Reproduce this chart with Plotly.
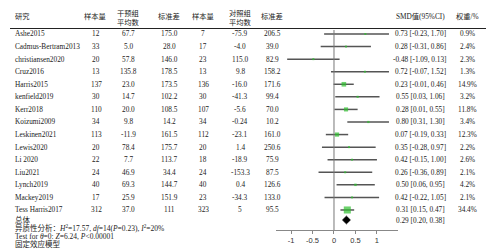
import numpy as np
import plotly.graph_objects as go

# ---------------- data ----------------
studies = ["Ashe2015", "Cadmus-Bertram2013", "christiansen2020", "Cruz2016", "Harris2015",
           "kenfield2019", "Kerr2018", "Koizumi2009", "Leskinen2021", "Lewis2020", "Li 2020",
           "Liu2021", "Lynch2019", "Mackey2019", "Tess Harris2017"]
n_int = [12, 33, 20, 13, 137, 30, 110, 34, 113, 20, 22, 24, 40, 17, 312]
mean_int = ["67.7", "5.0", "57.8", "135.8", "23.0", "14.7", "20.0", "9.8", "-11.9", "78.4",
            "7.7", "46.9", "69.3", "25.9", "37.0"]
sd_int = ["175.0", "28.0", "146.0", "178.5", "173.5", "102.2", "108.5", "14.2", "161.5",
          "175.7", "113.7", "34.4", "144.7", "151.9", "111"]
n_ctl = [7, 17, 23, 13, 136, 30, 107, 34, 112, 20, 18, 24, 40, 23, 323]
mean_ctl = ["-75.9", "-4.0", "115.0", "9.8", "-16.0", "-41.3", "-5.6", "-0.24", "-23.1", "1.4",
            "-18.9", "-153.3", "0.4", "-34.3", "5"]
sd_ctl = ["206.5", "39.0", "82.9", "158.2", "171.6", "99.4", "70.0", "10.2", "161.0", "250.6",
          "75.9", "87.5", "126.6", "133.0", "95.5"]
smd = [0.73, 0.28, -0.48, 0.72, 0.23, 0.55, 0.28, 0.80, 0.07, 0.35, 0.42, 0.26, 0.50, 0.42, 0.31]
ci_lo = [-0.23, -0.31, -1.09, -0.07, -0.01, 0.03, 0.01, 0.31, -0.19, -0.28, -0.15, -0.36, 0.06, -0.22, 0.15]
ci_hi = [1.70, 0.86, 0.13, 1.52, 0.46, 1.06, 0.55, 1.30, 0.33, 0.97, 1.00, 0.89, 0.95, 1.05, 0.47]
weight = [0.9, 2.4, 2.3, 1.3, 14.9, 3.2, 11.8, 3.4, 12.3, 2.2, 2.6, 2.1, 4.2, 2.1, 34.4]
overall_smd, overall_lo, overall_hi = 0.29, 0.20, 0.38
tick_vals = [-1, -0.5, 0, 0.5, 1]
tick_text = ["-1", "-0.5", "0", "0.5", "1"]

# ---------------- layout helpers ----------------
W, H = 497, 252
FONT = "Liberation Serif, Times New Roman, Noto Sans CJK SC, serif"
TXT = "#222222"
FS = 7.3

row0, row_step = 34.0, 12.57
row_y = [row0 + i * row_step for i in range(len(studies))]
overall_y = 220.0
axis_y = 230.0
x_clip = 1.28

annotations = []


def ann(xp, yp, text, xanchor="center", size=FS):
    annotations.append(dict(x=xp / W, y=1 - yp / H, xref="paper", yref="paper",
                            text=text, showarrow=False, xanchor=xanchor, yanchor="middle",
                            font=dict(family=FONT, size=size, color=TXT)))


# headers
ann(13, 17, "研究", "left")
ann(95, 17, "样本量")
ann(128, 18, "干预组<br>平均数")
ann(169, 17, "标准差")
ann(203, 17, "样本量")
ann(240, 18, "对照组<br>平均数")
ann(272, 17, "标准差")
ann(420, 17, "SMD值(95%CI)")
ann(467, 17, "权重/%")

cols = [(96, n_int), (128, mean_int), (169, sd_int), (203, n_ctl), (240, mean_ctl), (272, sd_ctl)]
for i, name in enumerate(studies):
    y = row_y[i]
    ann(13, y, name, "left")
    for xc, arr in cols:
        ann(xc, y, str(arr[i]))
    ann(420, y, f"{smd[i]:.2f} [{ci_lo[i]:.2f}, {ci_hi[i]:.2f}]")
    ann(467, y, f"{weight[i]}%")

ann(420, overall_y, f"{overall_smd:.2f} [{overall_lo:.2f}, {overall_hi:.2f}]")

BS = 7.5
ann(13, 220, "总体", "left", BS)
ann(13, 228, "异质性分析：<i>H</i><sup>2</sup>=17.57, <i>df</i>=14(<i>P</i>=0.23), <i>I</i><sup>2</sup>=20%", "left", BS)
ann(13, 236, "Test for <i>θ</i>=0: <i>Z</i>=6.24, <i>P</i>&lt;0.00001", "left", BS)
ann(13, 243.5, "固定效应模型", "left", BS)

fig = go.Figure()

# CI lines
for i in range(len(studies)):
    lo = max(ci_lo[i], -1.35)
    hi = min(ci_hi[i], x_clip)
    fig.add_trace(go.Scatter(x=[lo, hi], y=[row_y[i], row_y[i]], mode="lines",
                             line=dict(color="#555555", width=1.5), showlegend=False,
                             hoverinfo="skip"))

# weighted squares
sizes = [max(2.0, 1.2 * np.sqrt(w)) for w in weight]
fig.add_trace(go.Scatter(x=smd, y=row_y, mode="markers",
                         marker=dict(symbol="square", size=sizes, color="#2fbf2f",
                                     line=dict(width=0)),
                         showlegend=False))

# overall diamond
fig.add_trace(go.Scatter(x=[overall_lo, overall_smd, overall_hi, overall_smd, overall_lo],
                         y=[overall_y, overall_y - 3.8, overall_y, overall_y + 3.8, overall_y],
                         mode="lines", fill="toself", fillcolor="black",
                         line=dict(color="black", width=1), showlegend=False))

shapes = [
    dict(type="line", xref="paper", yref="paper", x0=10 / W, x1=486 / W,
         y0=1 - 28.5 / H, y1=1 - 28.5 / H, line=dict(color="#222222", width=1)),
    dict(type="line", xref="x", yref="y", x0=0, x1=0, y0=30, y1=axis_y,
         line=dict(color="#777777", width=1)),
]

fig.update_layout(
    width=W, height=H,
    margin=dict(l=0, r=0, t=0, b=0),
    paper_bgcolor="white", plot_bgcolor="rgba(0,0,0,0)",
    annotations=annotations, shapes=shapes,
    xaxis=dict(domain=[276 / W, 398 / W], range=[-1.35, 1.49], anchor="free",
               position=1 - axis_y / H, showline=True, linecolor="#888888", linewidth=1,
               showgrid=False, zeroline=False, ticks="outside", ticklen=3,
               tickcolor="#888888", tickvals=tick_vals, ticktext=tick_text,
               tickfont=dict(family="Liberation Sans, Arial", size=7.5, color="#333333")),
    yaxis=dict(domain=[0, 1], range=[H, 0], visible=False, showgrid=False, zeroline=False),
)

fig.write_html("out.html", config={"displayModeBar": False},
               post_script="document.body.style.margin='0';document.body.style.overflow='hidden';")
